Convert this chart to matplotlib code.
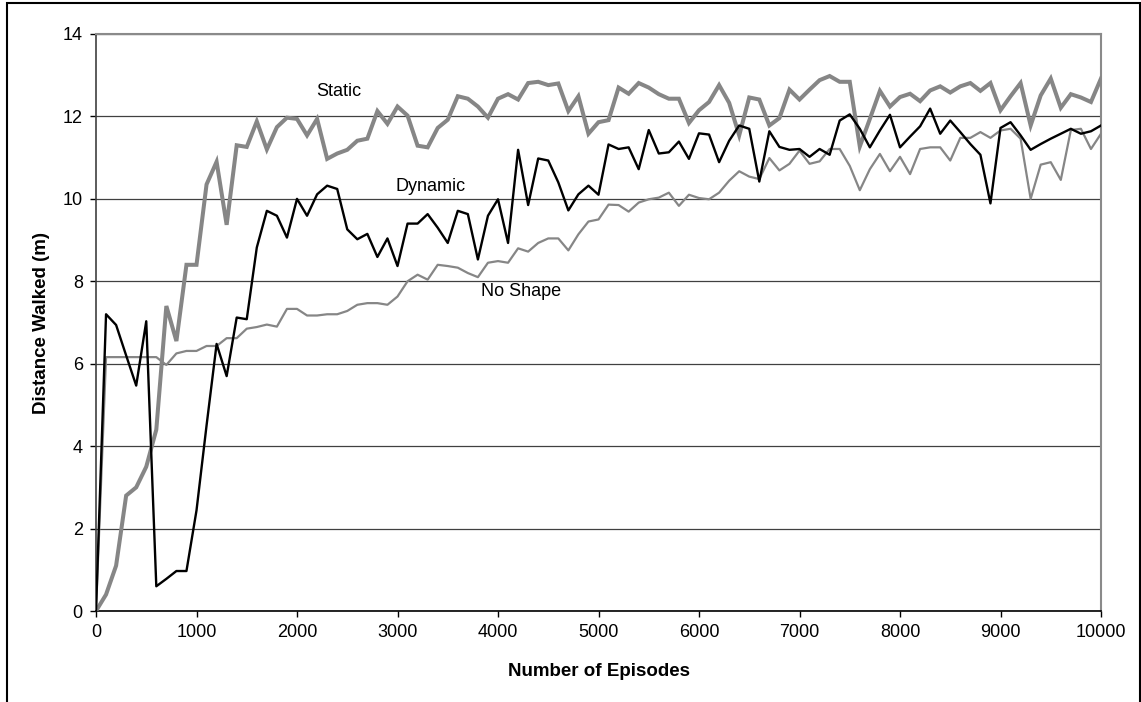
import matplotlib
matplotlib.use("Agg")
import matplotlib.pyplot as plt
from matplotlib.patches import Rectangle
import numpy as np

plt.rcParams['font.family'] = ['Liberation Sans', 'DejaVu Sans']

episodes = list(range(0, 10001, 100))

static = [0.0, 0.4, 1.1, 2.8, 3.0, 3.5, 4.4, 7.4, 6.55, 8.4,
          8.4, 10.35, 10.9, 9.37, 11.3, 11.26, 11.88, 11.2, 11.74, 11.97,
          11.94, 11.54, 11.94, 10.97, 11.1, 11.19, 11.41, 11.46, 12.13, 11.82,
          12.24, 12.02, 11.29, 11.25, 11.72, 11.92, 12.49, 12.43, 12.24, 11.97,
          12.43, 12.54, 12.41, 12.81, 12.84, 12.76, 12.8, 12.13, 12.49, 11.58,
          11.86, 11.91, 12.7, 12.55, 12.81, 12.7, 12.54, 12.43, 12.43, 11.84,
          12.15, 12.35, 12.76, 12.33, 11.54, 12.46, 12.41, 11.78, 11.96, 12.65,
          12.41, 12.65, 12.88, 12.98, 12.84, 12.84, 11.27, 11.94, 12.62, 12.24,
          12.47, 12.55, 12.37, 12.63, 12.73, 12.58, 12.73, 12.81, 12.62, 12.81,
          12.15, 12.49, 12.81, 11.78, 12.51, 12.92, 12.21, 12.54, 12.46, 12.35,
          12.92]

dynamic = [0.0, 7.2, 6.94, 6.2, 5.47, 7.03, 0.6, 0.78, 0.97, 0.97,
           2.44, 4.5, 6.48, 5.7, 7.12, 7.08, 8.82, 9.71, 9.59, 9.06,
           10.0, 9.59, 10.11, 10.32, 10.24, 9.26, 9.02, 9.15, 8.59, 9.04,
           8.37, 9.4, 9.4, 9.63, 9.3, 8.93, 9.71, 9.63, 8.53, 9.59,
           9.99, 8.93, 11.19, 9.85, 10.98, 10.93, 10.4, 9.72, 10.11, 10.32,
           10.1, 11.32, 11.21, 11.25, 10.72, 11.67, 11.1, 11.13, 11.39, 10.97,
           11.59, 11.56, 10.89, 11.41, 11.78, 11.7, 10.42, 11.64, 11.26, 11.19,
           11.21, 11.02, 11.21, 11.07, 11.9, 12.05, 11.7, 11.25, 11.66, 12.04,
           11.25, 11.51, 11.76, 12.19, 11.58, 11.9, 11.62, 11.33, 11.07, 9.89,
           11.72, 11.86, 11.54, 11.19, 11.33, 11.46, 11.58, 11.7, 11.58, 11.64,
           11.78]

no_shape = [0.0, 6.16, 6.16, 6.16, 6.16, 6.16, 6.16, 5.97, 6.25, 6.31,
            6.31, 6.43, 6.43, 6.62, 6.62, 6.85, 6.89, 6.95, 6.9, 7.33,
            7.33, 7.17, 7.17, 7.2, 7.2, 7.28, 7.43, 7.47, 7.47, 7.43,
            7.63, 8.0, 8.16, 8.04, 8.4, 8.37, 8.33, 8.2, 8.1, 8.45,
            8.49, 8.45, 8.8, 8.72, 8.93, 9.04, 9.04, 8.75, 9.14, 9.45,
            9.5, 9.86, 9.85, 9.69, 9.91, 9.99, 10.03, 10.15, 9.83, 10.1,
            10.02, 9.99, 10.15, 10.44, 10.67, 10.54, 10.48, 10.99, 10.69, 10.85,
            11.17, 10.85, 10.91, 11.21, 11.21, 10.8, 10.21, 10.72, 11.09, 10.67,
            11.02, 10.6, 11.21, 11.25, 11.25, 10.93, 11.48, 11.48, 11.62, 11.48,
            11.66, 11.7, 11.46, 10.0, 10.83, 10.89, 10.46, 11.67, 11.7, 11.21,
            11.58]

series_labels = ["Static", "Dynamic", "No Shape"]
label_pos = [(2420, 12.6), (3330, 10.3), (4230, 7.75)]

x_ticks = list(range(0, 10001, 1000))
y_ticks = list(range(0, 15, 2))

W, H = 1141, 702
fig = plt.figure(figsize=(W / 100, H / 100), dpi=100)
fig.patch.set_facecolor('white')

# outer chart frame
fig.patches.append(Rectangle((7 / W, -0.01), (1140 - 7) / W, 1 - 3 / H + 0.01,
                             transform=fig.transFigure, fill=False,
                             edgecolor='black', linewidth=1.5, clip_on=False))

left, right, top, bottom = 96, 1101, 34, 611
ax = fig.add_axes([left / W, 1 - bottom / H, (right - left) / W, (bottom - top) / H])

ax.plot(episodes, static, color='#868686', lw=2.9, zorder=3, solid_joinstyle='miter')
ax.plot(episodes, no_shape, color='#868686', lw=1.6, zorder=4)
ax.plot(episodes, dynamic, color='black', lw=1.7, zorder=5)

for (lx, ly), txt in zip(label_pos, series_labels):
    ax.text(lx, ly, txt, fontsize=13, ha='center', va='center', color='black')

ax.set_xlim(0, 10000)
ax.set_ylim(0, 14)
ax.set_xticks(x_ticks)
ax.set_yticks(y_ticks)
ax.tick_params(axis='both', direction='out', length=4.5, width=1, labelsize=13, pad=5)
ax.grid(axis='y', color='#404040', lw=0.9, zorder=1)
ax.set_axisbelow(True)

ax.spines['top'].set_color('#8a8a8a')
ax.spines['right'].set_color('#8a8a8a')
ax.spines['top'].set_linewidth(1.5)
ax.spines['right'].set_linewidth(1.5)
ax.spines['left'].set_color('#404040')
ax.spines['bottom'].set_color('black')
ax.spines['left'].set_linewidth(1.2)
ax.spines['bottom'].set_linewidth(1.2)

ax.set_xlabel("Number of Episodes", fontsize=13.5, fontweight='bold', labelpad=16)
ax.set_ylabel("Distance Walked (m)", fontsize=13.5, fontweight='bold', labelpad=9)

fig.savefig("out.png", dpi=100)
